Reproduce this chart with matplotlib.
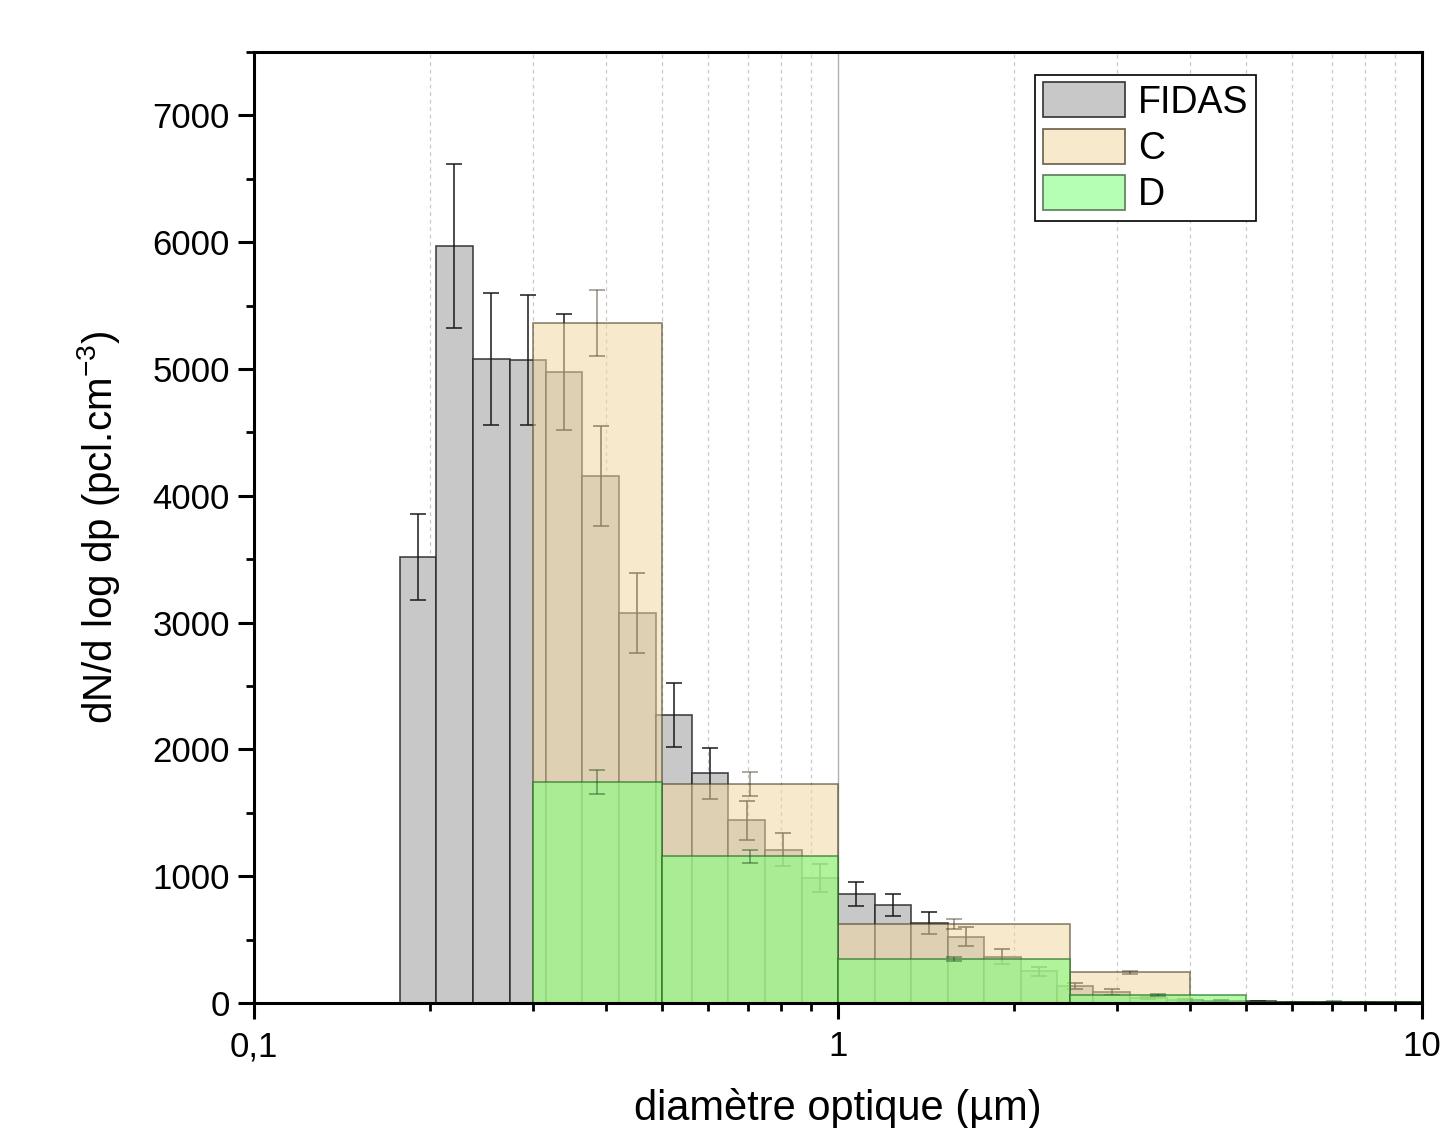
import numpy as np
import matplotlib
matplotlib.use("Agg")
import matplotlib.pyplot as plt
from matplotlib.patches import Patch
from matplotlib.ticker import FixedLocator, LogLocator, MultipleLocator, NullFormatter

plt.rcParams['font.family'] = ['Liberation Sans', 'DejaVu Sans']
plt.rcParams['mathtext.fontset'] = 'custom'
plt.rcParams['mathtext.rm'] = 'Liberation Sans'

# ---- data ----
fidas_edges = [0.178, 0.205, 0.237, 0.274, 0.316, 0.365, 0.422, 0.487, 0.562, 0.649,
               0.750, 0.866, 1.0, 1.155, 1.334, 1.540, 1.778, 2.054, 2.371, 2.738,
               3.162, 3.652, 4.217, 4.870, 5.623, 6.494, 7.499, 8.660, 10.0]
fidas_vals = [3516, 5970, 5080, 5070, 4976, 4153, 3076, 2270, 1810, 1440,
              1210, 984, 863, 771, 629, 523, 365, 250, 137, 85,
              40, 24, 16, 12, 9, 7, 5, 4]
fidas_err = [340, 645, 520, 512, 460, 395, 317, 254, 200, 153,
             131, 110, 95, 88, 85, 74, 58, 37, 24, 22,
             10, 6, 4, 3, 2, 2, 1, 1]

c_edges = [0.3, 0.5, 1.0, 2.5, 4.0, 10.0]
c_vals = [5364, 1730, 621, 242, 5]
c_err = [260, 95, 40, 13, 2]

d_edges = [0.3, 0.5, 1.0, 2.5, 5.0, 10.0]
d_vals = [1742, 1157, 347, 63, 10]
d_err = [92, 50, 18, 5, 2]

labels = ["FIDAS", "C", "D"]
xticklabels = ["0,1", "1", "10"]

# ---- styles ----
fidas_face = (200/255, 200/255, 200/255)
c_face = (240/255, 215/255, 162/255, 0.55)
d_face = (148/255, 248/255, 134/255, 0.70)

fig = plt.figure(figsize=(14.4, 11.28), dpi=100)
ax = fig.add_axes([254/1440, 1 - 1003/1128, (1422-254)/1440, (1003-52)/1128])
ax.set_xscale('log')


def draw(edges, vals, errs, face, edge, ecolor, z):
    e = np.array(edges)
    left = e[:-1]
    width = np.diff(e)
    ax.bar(left, vals, width=width, align='edge', color=face, edgecolor=edge,
           linewidth=1.2, zorder=z)
    centers = np.sqrt(e[:-1] * e[1:])
    ax.errorbar(centers, vals, yerr=errs, fmt='none', ecolor=ecolor,
                elinewidth=1.1, capsize=5.8, capthick=1.1, zorder=z + 0.5)


draw(fidas_edges, fidas_vals, fidas_err, fidas_face, (0.15, 0.15, 0.15, 0.85),
     (0.1, 0.1, 0.1, 1.0), 2)
draw(c_edges, c_vals, c_err, c_face, (0.25, 0.2, 0.1, 0.6),
     (0.2, 0.15, 0.05, 0.5), 3)
draw(d_edges, d_vals, d_err, d_face, (0.15, 0.45, 0.15, 0.7),
     (0.1, 0.3, 0.1, 0.55), 4)

ax.set_xlim(0.1, 10)
ax.set_ylim(0, 7500)

# grid
ax.xaxis.set_major_locator(FixedLocator([0.1, 1, 10]))
ax.set_xticklabels(xticklabels)
ax.xaxis.set_minor_locator(LogLocator(base=10, subs=np.arange(2, 10)))
ax.xaxis.set_minor_formatter(NullFormatter())
ax.grid(True, which='minor', axis='x', linestyle=(0, (3, 3)), color='#c8c8c8',
        linewidth=0.9, zorder=0)
ax.grid(True, which='major', axis='x', linestyle='-', color='#b0b0b0',
        linewidth=1.0, zorder=0)
ax.set_axisbelow(True)

ax.yaxis.set_major_locator(MultipleLocator(1000))
ax.yaxis.set_minor_locator(MultipleLocator(500))

for s in ax.spines.values():
    s.set_linewidth(2.2)
    s.set_zorder(10)

ax.tick_params(which='major', direction='out', length=11.5, width=2.2,
               labelsize=25, top=False, right=False, pad=6)
ax.tick_params(which='minor', direction='out', length=6, width=2.0,
               top=False, right=False)
ax.tick_params(axis='x', which='major', pad=8)

ax.set_xlabel("diamètre optique (µm)", fontsize=30, labelpad=18)
ax.set_ylabel("dN/d log dp (pcl.cm$^{\\mathregular{-3}}$)", fontsize=29, labelpad=22)

handles = [Patch(facecolor=fidas_face, edgecolor='#333333', linewidth=1.2),
           Patch(facecolor=(247/255, 233/255, 204/255), edgecolor='#6b5e48', linewidth=1.2),
           Patch(facecolor=(180/255, 255/255, 180/255), edgecolor='#5a7a5a', linewidth=1.2)]
leg = ax.legend(handles, labels, loc='upper left', bbox_to_anchor=(0.6687, 0.976),
                borderaxespad=0, fontsize=27, frameon=True, fancybox=False,
                edgecolor='black', framealpha=1, handlelength=2.2, handleheight=1.05,
                labelspacing=0.22, borderpad=0.2, handletextpad=0.35)
leg.get_frame().set_linewidth(1.2)
leg.set_zorder(20)

fig.savefig("out.png", dpi=100)
